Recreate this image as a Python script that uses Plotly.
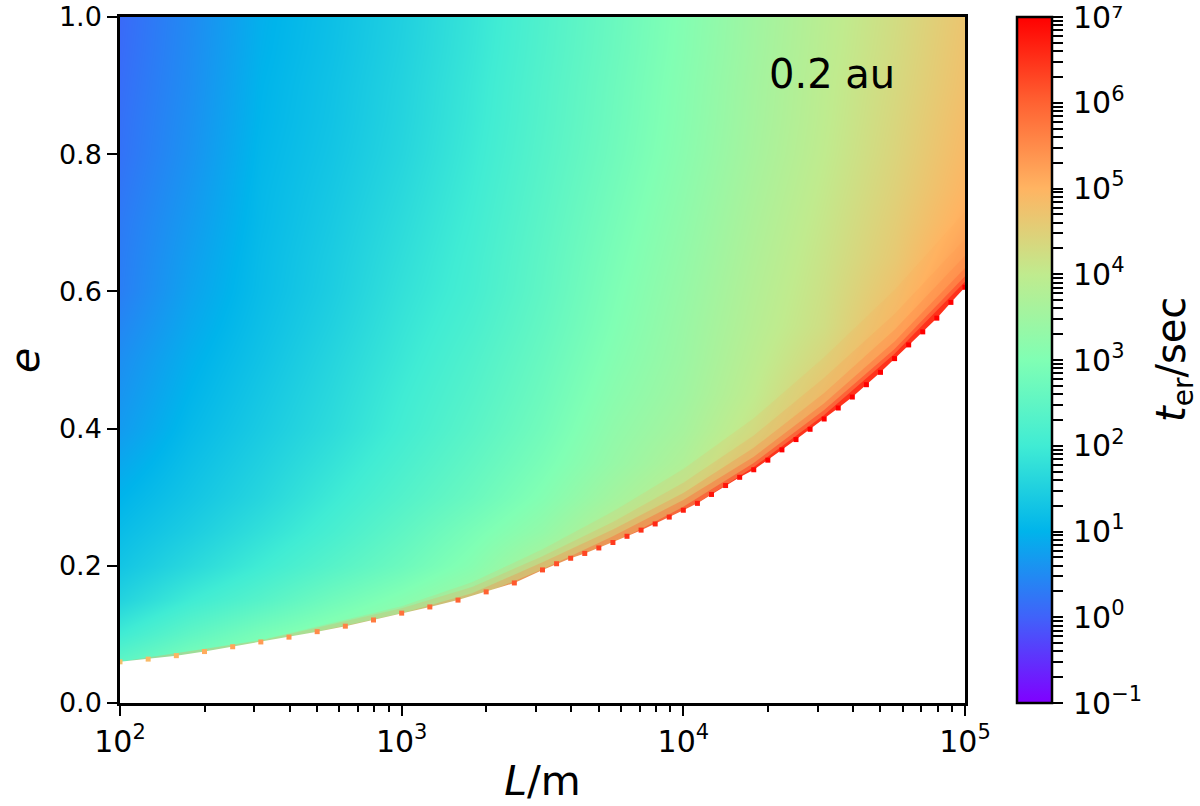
import plotly.graph_objects as go

# Values
L_values = [100, 178, 316, 562, 1000, 1778, 3162, 5623, 10000, 17783, 31623, 56234, 100000]
e_values = [0.00, 0.05, 0.10, 0.15, 0.20, 0.25, 0.30, 0.35, 0.40, 0.45, 0.50,
            0.55, 0.60, 0.65, 0.70, 0.75, 0.80, 0.85, 0.90, 0.95, 1.00]

# log10(t_er) per e row, L column
log_t = [
    [3.00, 3.60, 3.80, 4.00, 4.20, 4.40, 4.40, 4.60, 4.80, 5.00, 5.40, 5.60, 6.00],
    [2.60, 3.10, 3.30, 3.60, 3.90, 4.20, 4.30, 4.50, 4.70, 4.90, 5.30, 5.50, 5.90],
    [2.00, 2.50, 2.90, 3.20, 3.50, 3.85, 4.20, 4.40, 4.60, 4.80, 5.20, 5.40, 5.85],
    [1.55, 2.00, 2.35, 2.75, 3.10, 3.50, 4.00, 4.30, 4.50, 4.75, 5.15, 5.35, 5.80],
    [1.30, 1.65, 2.00, 2.35, 2.70, 3.10, 3.70, 4.20, 4.40, 4.70, 5.10, 5.30, 5.75],
    [1.15, 1.45, 1.78, 2.12, 2.50, 2.90, 3.30, 3.90, 4.30, 4.65, 5.05, 5.25, 5.70],
    [1.00, 1.30, 1.60, 1.95, 2.30, 2.65, 3.05, 3.55, 4.00, 4.60, 5.00, 5.20, 5.70],
    [0.85, 1.20, 1.50, 1.82, 2.17, 2.52, 2.90, 3.35, 3.75, 4.40, 5.00, 5.20, 5.70],
    [0.70, 1.10, 1.40, 1.70, 2.05, 2.40, 2.78, 3.25, 3.60, 4.15, 4.80, 5.20, 5.70],
    [0.62, 1.02, 1.33, 1.64, 1.99, 2.32, 2.70, 3.15, 3.50, 4.00, 4.60, 5.20, 5.70],
    [0.55, 0.95, 1.26, 1.58, 1.92, 2.25, 2.63, 3.07, 3.44, 3.92, 4.40, 5.10, 5.70],
    [0.45, 0.87, 1.20, 1.51, 1.86, 2.17, 2.56, 3.00, 3.40, 3.85, 4.25, 4.90, 5.70],
    [0.35, 0.80, 1.15, 1.45, 1.80, 2.10, 2.50, 2.95, 3.35, 3.80, 4.20, 4.75, 5.50],
    [0.33, 0.75, 1.13, 1.42, 1.75, 2.07, 2.47, 2.90, 3.30, 3.75, 4.15, 4.62, 5.30],
    [0.30, 0.70, 1.10, 1.38, 1.70, 2.03, 2.43, 2.85, 3.25, 3.70, 4.10, 4.55, 5.10],
    [0.25, 0.65, 1.08, 1.34, 1.65, 1.99, 2.39, 2.80, 3.20, 3.65, 4.05, 4.48, 4.98],
    [0.20, 0.60, 1.05, 1.30, 1.60, 1.95, 2.35, 2.75, 3.15, 3.60, 4.00, 4.42, 4.90],
    [0.18, 0.57, 1.02, 1.27, 1.57, 1.92, 2.32, 2.72, 3.12, 3.57, 3.97, 4.38, 4.84],
    [0.15, 0.54, 1.00, 1.25, 1.55, 1.90, 2.30, 2.70, 3.10, 3.55, 3.95, 4.34, 4.78],
    [0.12, 0.52, 0.97, 1.22, 1.52, 1.87, 2.27, 2.67, 3.07, 3.52, 3.92, 4.30, 4.74],
    [0.10, 0.50, 0.95, 1.20, 1.50, 1.85, 2.25, 2.65, 3.05, 3.50, 3.90, 4.27, 4.70],
]

# Lower edge of the coloured region, with the log10(t_er) of the rim along it
edge_log_L = [2.00, 2.10, 2.20, 2.30, 2.40, 2.50, 2.60, 2.70, 2.80, 2.90, 3.00, 3.10, 3.20, 3.30, 3.40,
              3.50, 3.55, 3.60, 3.65, 3.70, 3.75, 3.80, 3.85, 3.90, 3.95, 4.00, 4.05, 4.10, 4.15, 4.20,
              4.25, 4.30, 4.35, 4.40, 4.45, 4.50, 4.55, 4.60, 4.65, 4.70, 4.75, 4.80, 4.85, 4.90, 4.95, 5.00]
edge_e = [0.060, 0.064, 0.069, 0.075, 0.082, 0.089, 0.096, 0.104, 0.112, 0.121, 0.131, 0.140, 0.150, 0.162, 0.175,
          0.194, 0.203, 0.211, 0.218, 0.226, 0.234, 0.243, 0.252, 0.261, 0.271, 0.281, 0.291, 0.304, 0.317, 0.329,
          0.340, 0.354, 0.369, 0.384, 0.399, 0.414, 0.430, 0.446, 0.464, 0.482, 0.502, 0.522, 0.541, 0.561, 0.584, 0.606]
edge_log_t = [4.8, 4.9, 5.0, 5.1, 5.2, 5.3, 5.4, 5.5, 5.6, 5.7, 5.8, 5.9, 6.0, 6.0, 6.1,
              6.2, 6.2, 6.3, 6.3, 6.4, 6.4, 6.5, 6.5, 6.6, 6.6, 6.7, 6.7, 6.8, 6.8, 6.9,
              6.9, 7.0, 7.0, 7.0, 7.0, 7.0, 7.0, 7.0, 7.0, 7.0, 7.0, 7.0, 7.0, 7.0, 7.0, 7.0]

# Contours of the steep rise just above the edge, outermost first
band_log_L = [2.00, 2.50, 3.00, 3.25, 3.50, 3.75, 4.00, 4.25, 4.50, 4.75, 5.00]
band_e_1 = [0.060, 0.092, 0.141, 0.176, 0.224, 0.279, 0.341, 0.415, 0.504, 0.602, 0.716]
band_e_2 = [0.060, 0.091, 0.138, 0.169, 0.214, 0.264, 0.321, 0.390, 0.474, 0.567, 0.676]
band_e_3 = [0.055, 0.086, 0.131, 0.160, 0.205, 0.253, 0.306, 0.372, 0.452, 0.544, 0.652]
band_e_4 = [0.050, 0.080, 0.125, 0.152, 0.195, 0.243, 0.296, 0.359, 0.437, 0.527, 0.634]
band_e_5 = [0.050, 0.075, 0.120, 0.145, 0.185, 0.232, 0.286, 0.350, 0.427, 0.516, 0.622]
band_e_6 = [0.050, 0.070, 0.115, 0.140, 0.180, 0.225, 0.278, 0.344, 0.420, 0.509, 0.614]
band_colors = ['rgba(255,170,90,0.15)', 'rgba(255,150,80,0.2)', 'rgba(255,130,70,0.3)',
               'rgba(255,100,55,0.4)', 'rgba(255,60,35,0.5)', 'rgba(255,20,10,0.6)']

# matplotlib "rainbow"
rainbow = [[0.000, '#8000ff'], [0.125, '#4062fa'], [0.250, '#00b4eb'], [0.375, '#40ecd4'], [0.500, '#80ffb4'],
           [0.625, '#c0eb8e'], [0.750, '#ffb462'], [0.875, '#ff6232'], [1.000, '#ff0000']]

bar_tickvals = [0.1, 1, 10, 100, 1000, 10000, 100000, 1000000, 10000000]
# Top label uses the plain superscript glyph: a raised <sup> would run off the page there
bar_ticktext = ['10<sup>\u22121</sup>', '10<sup>0</sup>', '10<sup>1</sup>', '10<sup>2</sup>', '10<sup>3</sup>',
                '10<sup>4</sup>', '10<sup>5</sup>', '10<sup>6</sup>', '10\u2077']

edge_L = [10 ** v for v in edge_log_L]
band_L = [10 ** v for v in band_log_L]
font = 'DejaVu Sans'

heat = go.Heatmap(x=L_values, y=e_values, z=log_t, coloraxis='coloraxis', zsmooth='best', hoverinfo='skip')

# Each contour fills down to the axis, the white area then hides what lies below the edge
bands = []
for band_e, color in zip([band_e_1, band_e_2, band_e_3, band_e_4, band_e_5, band_e_6], band_colors):
    bands.append(go.Scatter(x=band_L, y=band_e, mode='lines', fill='tozeroy', fillcolor=color,
                            line=dict(width=0), showlegend=False, hoverinfo='skip'))

# White area below the edge
mask = go.Scatter(x=edge_L + [100000, 100], y=edge_e + [0, 0], mode='lines', fill='toself',
                  fillcolor='white', line=dict(width=0), hoverinfo='skip', showlegend=False)

rim = go.Scatter(x=edge_L, y=edge_e, mode='markers', showlegend=False, hoverinfo='skip',
                 marker=dict(symbol='square', size=5, color=edge_log_t, coloraxis='coloraxis', line=dict(width=0)))

# Empty trace, only there to bring up the log axis drawn next to the colour bar
bar_axis = go.Scatter(x=[None], y=[None], yaxis='y2', mode='markers', showlegend=False, hoverinfo='skip')

layout = go.Layout(
    width=1200, height=806, margin=dict(l=120, r=0, t=17, b=103, autoexpand=False),
    paper_bgcolor='white', plot_bgcolor='white', showlegend=False,
    font=dict(family=font, size=27, color='black'),
    xaxis=dict(type='log', range=[2, 5], domain=[0, 845 / 1080], tickvals=[100, 1000, 10000, 100000],
               ticktext=['10<sup>2</sup>', '10<sup>3</sup>', '10<sup>4</sup>', '10<sup>5</sup>'],
               tickfont=dict(size=30),
               ticks='outside', ticklen=10, tickwidth=2, tickcolor='black', showgrid=False, zeroline=False,
               showline=True, mirror=True, linecolor='black', linewidth=2.5,
               minor=dict(ticks='outside', ticklen=6, tickwidth=1.5, tickcolor='black', dtick='D1', showgrid=False),
               title=dict(text='<i>L</i>/m', font=dict(size=41), standoff=9)),
    yaxis=dict(range=[0, 1], tickvals=[0, 0.2, 0.4, 0.6, 0.8, 1.0], ticktext=['0.0', '0.2', '0.4', '0.6', '0.8', '1.0'],
               ticks='outside', ticklen=10, tickwidth=2, tickcolor='black', showgrid=False, zeroline=False,
               showline=True, mirror=True, linecolor='black', linewidth=2.5),
    yaxis2=dict(type='log', range=[-1, 7], overlaying='y', side='right', anchor='free',
                position=(1052 - 120) / 1080, tickvals=bar_tickvals, ticktext=bar_ticktext, tickfont=dict(size=30),
                ticklabeloverflow='allow', ticklabelstandoff=4,
                ticks='outside', ticklen=10, tickwidth=1.5, tickcolor='black', showgrid=False, zeroline=False,
                minor=dict(ticks='outside', ticklen=10, tickwidth=1.5, tickcolor='black', dtick='D1', showgrid=False)),
    coloraxis=dict(colorscale=rainbow, cmin=-1, cmax=7, colorbar=dict(
        xref='paper', yref='paper', x=(1017 - 120) / 1080, xanchor='left', y=0, yanchor='bottom',
        thicknessmode='pixels', thickness=35, lenmode='fraction', len=1, ypad=0, xpad=0,
        outlinewidth=2.5, outlinecolor='black', ticks='', showticklabels=False)),
    annotations=[
        dict(text='0.2 au', xref='paper', yref='paper', x=(832 - 120) / 1080, y=(703 - 74) / 686,
             xanchor='center', yanchor='middle', showarrow=False, font=dict(size=40)),
        dict(text='<i>t</i><sub>er</sub>/sec', xref='paper', yref='paper', x=(1174 - 120) / 1080, y=0.5,
             xanchor='center', yanchor='middle', textangle=-90, showarrow=False, font=dict(size=40)),
        dict(text='<i>e</i>', xref='paper', yref='paper', x=(25 - 120) / 1080, y=(703 - 361) / 686,
             xanchor='center', yanchor='middle', textangle=-90, showarrow=False, font=dict(size=41)),
    ],
)

fig = go.Figure(data=[heat] + bands + [mask, rim, bar_axis], layout=layout)
fig.write_html("out.html", config=dict(displayModeBar=False), post_script="document.body.style.margin='0';")
